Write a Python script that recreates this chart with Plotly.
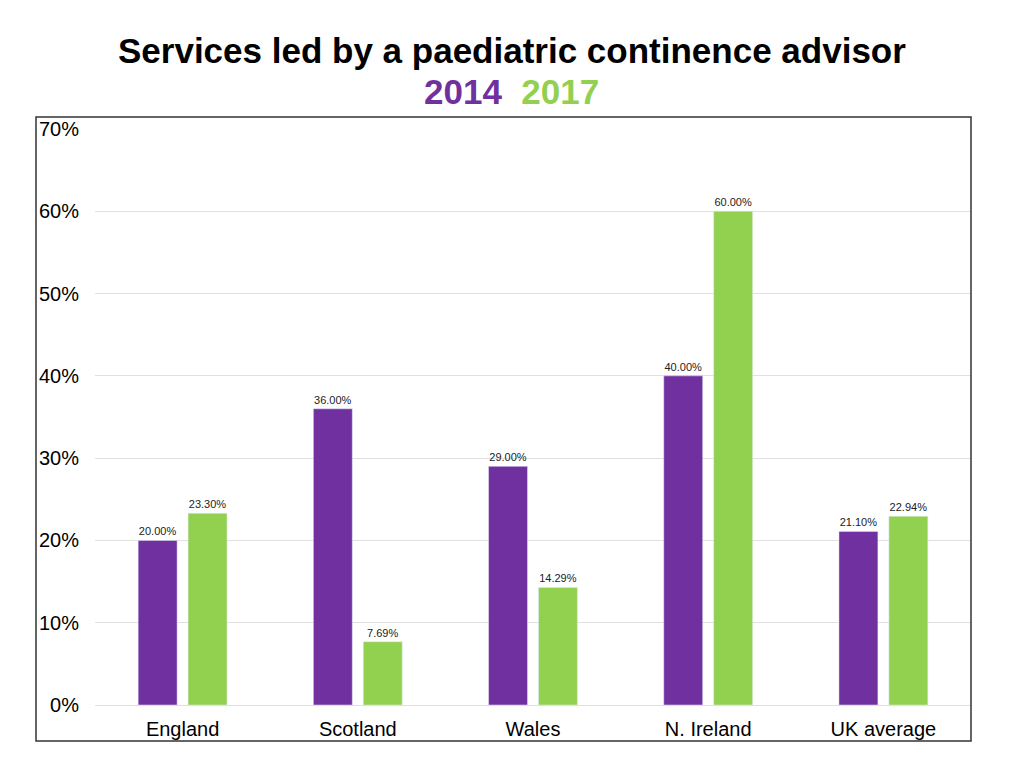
import plotly.graph_objects as go

categories = ["England", "Scotland", "Wales", "N. Ireland", "UK average"]
values_2014 = [20.00, 36.00, 29.00, 40.00, 21.10]
values_2017 = [23.30, 7.69, 14.29, 60.00, 22.94]
tick_vals = [0, 10, 20, 30, 40, 50, 60, 70]
tick_text = ["0%", "10%", "20%", "30%", "40%", "50%", "60%", "70%"]

PURPLE = "#7030A0"
GREEN = "#92D050"
FONT = "Liberation Sans, Arial, Helvetica, sans-serif"

OFF = 8  # page body margin
W, H = 1024 - 2 * OFF, 768 - 2 * OFF
L, T = 95 - OFF, 129 - OFF
R = W - (971 - OFF)
B = H - (705 - OFF)
pw, ph = W - L - R, H - T - B


def px_x(page_x):
    return (page_x - OFF - L) / pw


def px_y(page_y):
    return (H - B - (page_y - OFF)) / ph


fig = go.Figure()
fig.add_trace(go.Bar(x=categories, y=values_2014, name="2014", marker_color=PURPLE,
                     texttemplate="%{y:.2f}%", textposition="outside",
                     textfont=dict(size=11, color="#222", family=FONT), cliponaxis=False))
fig.add_trace(go.Bar(x=categories, y=values_2017, name="2017", marker_color=GREEN,
                     texttemplate="%{y:.2f}%", textposition="outside",
                     textfont=dict(size=11, color="#222", family=FONT), cliponaxis=False))

fig.update_layout(
    width=W, height=H,
    margin=dict(l=L, r=R, t=T, b=B, pad=0),
    paper_bgcolor="white", plot_bgcolor="white",
    barmode="group", bargap=0.43, bargroupgap=0.22,
    showlegend=False,
    font=dict(family=FONT, color="#000"),
    xaxis=dict(showgrid=False, showline=False, ticks="", tickfont=dict(size=20, color="#000"),
               ticklabelstandoff=10),
    yaxis=dict(range=[0, 70], tickvals=tick_vals, ticktext=tick_text,
               showgrid=True, gridcolor="#e0e0e0", gridwidth=1,
               zeroline=True, zerolinecolor="#e0e0e0", zerolinewidth=1,
               showline=False, ticks="", tickfont=dict(size=20, color="#000"),
               ticklabelstandoff=15),
    annotations=[
        dict(text="<b>Services led by a paediatric continence advisor</b>",
             xref="paper", yref="paper", x=px_x(512), y=px_y(50),
             xanchor="center", yanchor="middle", showarrow=False,
             font=dict(size=35, color="#000", family=FONT)),
        dict(text="<b><span style='color:%s'>2014</span>  <span style='color:%s'>2017</span></b>" % (PURPLE, GREEN),
             xref="paper", yref="paper", x=px_x(511), y=px_y(92),
             xanchor="center", yanchor="middle", showarrow=False,
             font=dict(size=35, family=FONT)),
    ],
    shapes=[
        dict(type="rect", xref="paper", yref="paper",
             x0=px_x(36), x1=px_x(971),
             y0=px_y(741), y1=px_y(117),
             line=dict(color="#333", width=1.5), fillcolor="rgba(0,0,0,0)", layer="above"),
    ],
)

fig.write_html("out.html")
